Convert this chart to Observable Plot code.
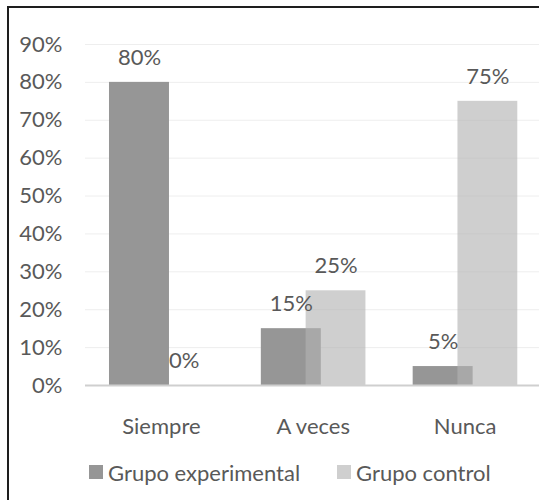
<!DOCTYPE html>
<html>
<head>
<meta charset="utf-8">
<script src="https://cdn.jsdelivr.net/npm/d3@7"></script>
<script src="https://cdn.jsdelivr.net/npm/@observablehq/plot@0.6"></script>
<style>
  html, body { margin: 0; padding: 0; background: #fff; overflow: hidden; }
  #wrap { position: relative; width: 539px; height: 500px; overflow: hidden; font-family: Lato, "Open Sans", sans-serif; }
  #frame { position: absolute; left: 7px; top: 6px; width: 700px; height: 700px; border-left: 2px solid #1e1e1e; border-top: 2px solid #1e1e1e; }
  #chart { position: absolute; left: 0; top: 0; }
  .leg { position: absolute; top: 459px; height: 26px; display: flex; align-items: center; font-size: 22px; color: #595959; white-space: nowrap; }
  .sw { width: 14px; height: 14px; margin-right: 5px; }
</style>
</head>
<body>
<div id="wrap">
  <div id="frame"></div>
  <div id="chart"></div>
  <div id="legend"></div>
</div>
<script>
const categories = ["Siempre", "A veces", "Nunca"];
const series = ["Grupo experimental", "Grupo control"];
const experimental = [0.80, 0.15, 0.05];
const control = [0.00, 0.25, 0.75];
const yTicks = [0, 0.1, 0.2, 0.3, 0.4, 0.5, 0.6, 0.7, 0.8, 0.9];

const colors = ["#969696", "#b3b3b3"];
const opacities = [1, 0.63];
// bar extents inside each category, in category-step units (overlapping bars)
const barOffsets = [[-0.342, 0.053], [-0.047, 0.347]];

const seriesValues = [experimental, control];
const rows = [];
seriesValues.forEach((vals, s) => {
  vals.forEach((v, i) => {
    rows.push({
      cat: categories[i], i, s, series: series[s], value: v,
      x1: i + barOffsets[s][0], x2: i + barOffsets[s][1],
      xm: i + (barOffsets[s][0] + barOffsets[s][1]) / 2
    });
  });
});

const pct = d3.format(".0%");
const FS = 22;

const chart = Plot.plot({
  width: 539,
  height: 445,
  marginLeft: 85,
  marginRight: 0,
  marginTop: 44,
  marginBottom: 60,
  x: { type: "linear", domain: [-0.5, 2.49], axis: null },
  y: { domain: [0, 0.9], axis: null },
  style: { fontFamily: "Lato, 'Open Sans', sans-serif", fontSize: FS + "px", color: "#595959", background: "transparent", overflow: "visible" },
  marks: [
    Plot.ruleY(yTicks.filter(d => d > 0), { stroke: "#eeeeee", strokeWidth: 1 }),
    Plot.rectY(rows.filter(d => d.s === 0), { x1: "x1", x2: "x2", y: "value", fill: colors[0], fillOpacity: opacities[0] }),
    Plot.rectY(rows.filter(d => d.s === 1), { x1: "x1", x2: "x2", y: "value", fill: colors[1], fillOpacity: opacities[1] }),
    Plot.ruleY([0], { stroke: "#cfcfcf", strokeWidth: 2 }),
    Plot.axisY({ ticks: yTicks, tickFormat: pct, tickSize: 0, tickPadding: 23, fill: "#595959", fontSize: FS, label: null }),
    Plot.axisX({ ticks: [0, 1, 2], tickFormat: i => categories[i], tickSize: 0, tickPadding: 33, fill: "#595959", fontSize: FS, label: null }),
    Plot.text(rows, { x: "xm", y: "value", text: d => pct(d.value), dy: -24.5, fill: "#595959", fontSize: FS })
  ]
});
document.getElementById("chart").appendChild(chart);

const legendLeft = [89, 337];
const legend = document.getElementById("legend");
series.forEach((name, s) => {
  const item = document.createElement("div");
  item.className = "leg";
  item.style.left = legendLeft[s] + "px";
  const sw = document.createElement("div");
  sw.className = "sw";
  sw.style.background = colors[s];
  sw.style.opacity = opacities[s];
  const t = document.createElement("span");
  t.textContent = name;
  item.appendChild(sw);
  item.appendChild(t);
  legend.appendChild(item);
});
</script>
</body>
</html>
